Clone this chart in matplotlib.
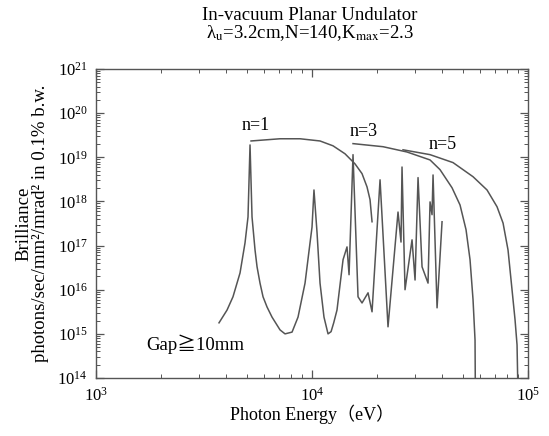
import numpy as np
import matplotlib
matplotlib.use("Agg")
import matplotlib.pyplot as plt
from matplotlib.ticker import LogLocator, LogFormatterMathtext, NullFormatter

plt.rcParams['font.family'] = ['Liberation Serif', 'Noto Sans CJK JP', 'DejaVu Sans']
plt.rcParams['mathtext.fontset'] = 'stix'

# spectrum at minimum gap (energy in eV, log10 brilliance)
spec_energy = [3710, 4042, 4306, 4642, 4895, 5054, 5164, 5275, 5447, 5565, 5744, 5932,
               6189, 6528, 7110, 7499, 8082, 8614, 9282, 9788, 10000, 10210, 10550,
               10890, 11360, 11860, 12250, 12600, 13050, 13920, 14520, 14840, 15480,
               16330, 17040, 18170, 18960, 20650, 22480, 25010, 25820, 26100, 26950,
               29040, 29990, 30960, 32310, 34440, 35190, 35940, 36330, 37920, 39990]
spec_logb = [15.25, 15.54, 15.84, 16.38, 17.06, 17.65, 19.28, 17.65, 16.90, 16.52, 16.15, 15.84,
             15.61, 15.38, 15.09, 15.00, 15.04, 15.38, 16.15, 17.06, 17.42, 18.26, 17.29,
             16.15, 15.38, 15.00, 15.05, 15.25, 15.54, 16.68, 16.97, 16.34, 19.06,
             15.84, 15.70, 15.93, 15.50, 18.49, 15.16, 17.76, 17.08, 18.78, 16.00,
             17.13, 16.22, 18.54, 16.52, 16.15, 17.99, 17.70, 18.60, 15.59, 17.54]

# tuning curves
n1_energy = [5220, 7110, 8800, 10890, 12510, 14210, 15820, 17040, 17970, 18560, 18960]
n1_logb = [19.37, 19.42, 19.42, 19.37, 19.26, 19.08, 18.85, 18.63, 18.33, 18.04, 17.54]

n3_energy = [15480, 21320, 27540, 35190, 39140, 44480, 48440, 51640, 53890, 55650, 56840, 57150]
n3_logb = [19.31, 19.24, 19.12, 18.94, 18.72, 18.31, 17.92, 17.36, 16.68, 15.77, 14.86, 13.0]

n5_energy = [26380, 35190, 44960, 55650, 64590, 71860, 76630, 80800, 84320, 87070, 88950, 90370]
n5_logb = [19.17, 19.06, 18.88, 18.56, 18.26, 17.88, 17.51, 16.90, 16.00, 15.32, 14.75, 13.0]

line_color = '#555555'

fig = plt.figure(figsize=(5.49, 4.36), dpi=100)
ax = fig.add_axes([0.1749, 0.1330, 0.7869, 0.7087])

ax.plot(spec_energy, 10 ** np.array(spec_logb), color=line_color, lw=1.1)
for e, b in [(n1_energy, n1_logb), (n3_energy, n3_logb), (n5_energy, n5_logb)]:
    ax.plot(e, 10 ** np.array(b), color=line_color, lw=1.1)

ax.set_xscale('log')
ax.set_yscale('log')
ax.set_xlim(1e3, 1e5)
ax.set_ylim(1e14, 1e21)

ax.xaxis.set_major_locator(LogLocator(base=10, numticks=10))
ax.yaxis.set_major_locator(LogLocator(base=10, numticks=10))
ax.xaxis.set_minor_locator(LogLocator(base=10, subs=np.arange(2, 10), numticks=20))
ax.yaxis.set_minor_locator(LogLocator(base=10, subs=np.arange(2, 10), numticks=20))
ax.xaxis.set_major_formatter(LogFormatterMathtext())
ax.yaxis.set_major_formatter(LogFormatterMathtext())
ax.xaxis.set_minor_formatter(NullFormatter())
ax.yaxis.set_minor_formatter(NullFormatter())

ax.tick_params(which='both', direction='in', top=True, right=True, color=line_color)
ax.tick_params(which='major', length=6, width=0.9, labelsize=12, pad=6)
ax.tick_params(which='minor', length=3, width=0.7)
for s in ax.spines.values():
    s.set_color(line_color)
    s.set_linewidth(1.0)

ax.set_xlabel('Photon Energy（eV）', fontsize=13, labelpad=0)
ax.set_ylabel('Brilliance\nphotons/sec/mm²/mrad² in 0.1% b.w.', fontsize=13.5,
              labelpad=6, linespacing=0.95)

fig.text(0.565, 0.965, 'In-vacuum Planar Undulator', ha='center', va='center', fontsize=13.5)
fig.text(0.565, 0.925, r'λ$_\mathrm{u}$=3.2cm,N=140,K$_\mathrm{max}$=2.3',
         ha='center', va='center', fontsize=13.5)

ax.text(5500, 5.2e19, 'n=1', fontsize=13, ha='center', va='center')
ax.text(17400, 3.8e19, 'n=3', fontsize=13, ha='center', va='center')
ax.text(40300, 2.0e19, 'n=5', fontsize=13, ha='center', va='center')
ax.text(2870, 5.9e14, 'Gap≧10mm', fontsize=13.5, ha='center', va='center')

fig.savefig('out.png', dpi=100)
